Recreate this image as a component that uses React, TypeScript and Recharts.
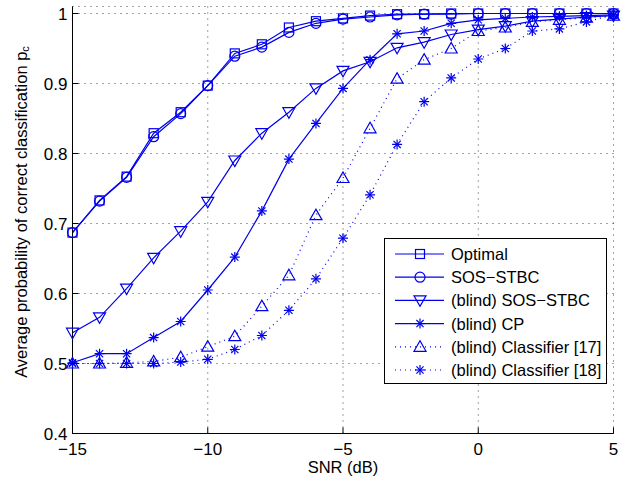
import React from 'react';
import { LineChart, Line, XAxis, YAxis, CartesianGrid } from 'recharts';

// SNR grid (dB)
const snr = [-15, -14, -13, -12, -11, -10, -9, -8, -7, -6, -5, -4, -3, -2, -1, 0, 1, 2, 3, 4, 5];

// probability of correct classification
const optimal = [0.687, 0.733, 0.767, 0.829, 0.859, 0.897, 0.943, 0.956, 0.980, 0.989, 0.993, 0.997, 0.999, 0.999, 1.0, 1.0, 1.0, 1.0, 1.0, 1.0, 1.0];
const sosStbc = [0.687, 0.732, 0.766, 0.824, 0.857, 0.897, 0.939, 0.952, 0.973, 0.986, 0.992, 0.995, 0.998, 0.999, 0.999, 1.0, 1.0, 1.0, 1.0, 1.0, 1.0];
const blindSos = [0.544, 0.566, 0.607, 0.651, 0.689, 0.731, 0.790, 0.829, 0.859, 0.893, 0.918, 0.931, 0.951, 0.959, 0.970, 0.977, 0.982, 0.989, 0.992, 0.995, 0.997];
const blindCp = [0.501, 0.514, 0.514, 0.537, 0.560, 0.605, 0.652, 0.718, 0.792, 0.843, 0.893, 0.934, 0.971, 0.975, 0.986, 0.991, 0.993, 0.995, 0.996, 0.997, 0.998];
const classifier17 = [0.500, 0.500, 0.501, 0.503, 0.509, 0.524, 0.539, 0.582, 0.626, 0.712, 0.765, 0.836, 0.907, 0.934, 0.950, 0.975, 0.980, 0.988, 0.991, 0.994, 0.997];
const classifier18 = [0.500, 0.500, 0.500, 0.500, 0.502, 0.506, 0.520, 0.540, 0.576, 0.621, 0.679, 0.741, 0.813, 0.874, 0.908, 0.935, 0.950, 0.975, 0.978, 0.988, 0.998];

const xTicks = [-15, -10, -5, 0, 5];
const yTicks = [0.4, 0.5, 0.6, 0.7, 0.8, 0.9, 1];

const BLUE = '#0000ee';
const FONT = '"Liberation Sans", Arial, sans-serif';
const TICK_LEN = 6;

type MarkerKind = 'square' | 'circle' | 'down' | 'up' | 'star';

const series: { key: string; name: string; values: number[]; marker: MarkerKind; dotted: boolean }[] = [
  { key: 'optimal', name: 'Optimal', values: optimal, marker: 'square', dotted: false },
  { key: 'sos', name: 'SOS\u2212STBC', values: sosStbc, marker: 'circle', dotted: false },
  { key: 'blindSos', name: '(blind) SOS\u2212STBC', values: blindSos, marker: 'down', dotted: false },
  { key: 'blindCp', name: '(blind) CP', values: blindCp, marker: 'star', dotted: false },
  { key: 'c17', name: '(blind) Classifier [17]', values: classifier17, marker: 'up', dotted: true },
  { key: 'c18', name: '(blind) Classifier [18]', values: classifier18, marker: 'star', dotted: true },
];

const data = snr.map((s, i) => {
  const row: Record<string, number> = { snr: s };
  series.forEach((sr) => {
    row[sr.key] = sr.values[i];
  });
  return row;
});

const Marker = ({ kind, cx, cy }: { kind: MarkerKind; cx: number; cy: number }) => {
  const p = { fill: 'none', stroke: BLUE, strokeWidth: 1.2 };
  switch (kind) {
    case 'square':
      return <rect x={cx - 4.5} y={cy - 4.5} width={9} height={9} {...p} />;
    case 'circle':
      return <circle cx={cx} cy={cy} r={5} {...p} />;
    case 'down':
      return <polygon points={`${cx - 6},${cy - 4.5} ${cx + 6},${cy - 4.5} ${cx},${cy + 6}`} {...p} />;
    case 'up':
      return <polygon points={`${cx - 6},${cy + 4.5} ${cx + 6},${cy + 4.5} ${cx},${cy - 6}`} {...p} />;
    default:
      return (
        <g {...p}>
          <line x1={cx - 5} y1={cy} x2={cx + 5} y2={cy} />
          <line x1={cx} y1={cy - 5} x2={cx} y2={cy + 5} />
          <line x1={cx - 3.6} y1={cy - 3.6} x2={cx + 3.6} y2={cy + 3.6} />
          <line x1={cx - 3.6} y1={cy + 3.6} x2={cx + 3.6} y2={cy - 3.6} />
        </g>
      );
  }
};

const fmt = (v: number) => (v < 0 ? '\u2212' + Math.abs(v) : String(v));

const BottomTick = (props: any) => {
  const { x, y, payload } = props;
  const axisY = y - 9.5;
  return (
    <g>
      <line x1={x} x2={x} y1={axisY} y2={axisY - TICK_LEN} stroke="#000" />
      <text x={x} y={y} dy="0.71em" textAnchor="middle" fontSize={17} fontFamily={FONT} fill="#000">
        {fmt(payload.value)}
      </text>
    </g>
  );
};

const LeftTick = (props: any) => {
  const { x, y, payload } = props;
  const axisX = x + 5;
  return (
    <g>
      <line x1={axisX} x2={axisX + TICK_LEN} y1={y} y2={y} stroke="#000" />
      <text x={x} y={y} dy="0.36em" textAnchor="end" fontSize={17} fontFamily={FONT} fill="#000">
        {fmt(payload.value)}
      </text>
    </g>
  );
};

const TopTick = (props: any) => {
  const { x, y } = props;
  return <line x1={x} x2={x} y1={y} y2={y + TICK_LEN} stroke="#000" />;
};

const RightTick = (props: any) => {
  const { x, y } = props;
  return <line x1={x} x2={x - TICK_LEN} y1={y} y2={y} stroke="#000" />;
};

const YLabel = (props: any) => {
  const vb = props.viewBox || { x: 0, y: 0, width: 0, height: 0 };
  const cx = vb.x + 21;
  const cy = vb.y + vb.height / 2 - 8;
  return (
    <text
      x={cx}
      y={cy}
      transform={`rotate(-90 ${cx} ${cy})`}
      textAnchor="middle"
      dominantBaseline="central"
      fontSize={16.5}
      fontFamily={FONT}
      fill="#000"
    >
      Average probability of correct classification p
      <tspan fontSize={11} dy={4}>c</tspan>
    </text>
  );
};

const XLabel = (props: any) => {
  const vb = props.viewBox || { x: 0, y: 0, width: 0, height: 0 };
  return (
    <text x={vb.x + vb.width / 2} y={vb.y + 39} textAnchor="middle" fontSize={16.5} fontFamily={FONT} fill="#000">
      SNR (dB)
    </text>
  );
};

const LegendBox = () => {
  const rowY = (i: number) => 15 + i * 23.2;
  return (
    <div
      style={{
        position: 'absolute',
        left: 384,
        top: 238,
        width: 221,
        height: 144,
        border: '1px solid #000',
        background: '#fff',
      }}
    >
      <svg width={221} height={144}>
        {series.map((s, i) => (
          <g key={s.key}>
            <line
              x1={10}
              x2={59}
              y1={rowY(i)}
              y2={rowY(i)}
              stroke={BLUE}
              strokeWidth={1.2}
              strokeDasharray={s.dotted ? '1 4' : undefined}
            />
            <Marker kind={s.marker} cx={35} cy={rowY(i)} />
            <text x={66} y={rowY(i)} dy="0.36em" fontSize={16.5} fontFamily={FONT} fill="#000">
              {s.name}
            </text>
          </g>
        ))}
      </svg>
    </div>
  );
};

export default function App() {
  return (
    <div style={{ position: 'absolute', left: 0, top: 0, width: 626, height: 478, background: '#fff' }}>
      <LineChart width={626} height={478} data={data} margin={{ top: 6.5, right: 12.5, bottom: 0, left: 0 }}>
        <CartesianGrid stroke="#444" strokeDasharray="1 5" strokeWidth={1} />
        <XAxis
          dataKey="snr"
          type="number"
          domain={[-15, 5]}
          ticks={xTicks}
          interval={0}
          height={44.5}
          tickSize={0}
          tickMargin={9.5}
          tickLine={false}
          tick={<BottomTick />}
          axisLine={{ stroke: '#000' }}
          label={<XLabel />}
        />
        <XAxis
          xAxisId="top"
          orientation="top"
          dataKey="snr"
          type="number"
          domain={[-15, 5]}
          ticks={xTicks}
          interval={0}
          height={0}
          tickSize={0}
          tickMargin={0}
          tickLine={false}
          tick={<TopTick />}
          axisLine={{ stroke: '#000' }}
        />
        <YAxis
          type="number"
          domain={[0.4, 1.01]}
          ticks={yTicks}
          interval={0}
          width={72.5}
          tickSize={0}
          tickMargin={5}
          tickLine={false}
          tick={<LeftTick />}
          axisLine={{ stroke: '#000' }}
          allowDataOverflow
          label={<YLabel />}
        />
        <YAxis
          yAxisId="right"
          orientation="right"
          type="number"
          domain={[0.4, 1.01]}
          ticks={yTicks}
          interval={0}
          width={0}
          tickSize={0}
          tickMargin={0}
          tickLine={false}
          tick={<RightTick />}
          axisLine={{ stroke: '#000' }}
          allowDataOverflow
        />
        {series.map((s) => (
          <Line
            key={s.key}
            dataKey={s.key}
            type="linear"
            stroke={BLUE}
            strokeWidth={1.2}
            strokeDasharray={s.dotted ? '1 4' : undefined}
            isAnimationActive={false}
            dot={(p: any) => (
              <g key={`${s.key}-${p.index}`}>
                <Marker kind={s.marker} cx={p.cx} cy={p.cy} />
              </g>
            )}
            activeDot={false}
          />
        ))}
      </LineChart>
      <LegendBox />
    </div>
  );
}
